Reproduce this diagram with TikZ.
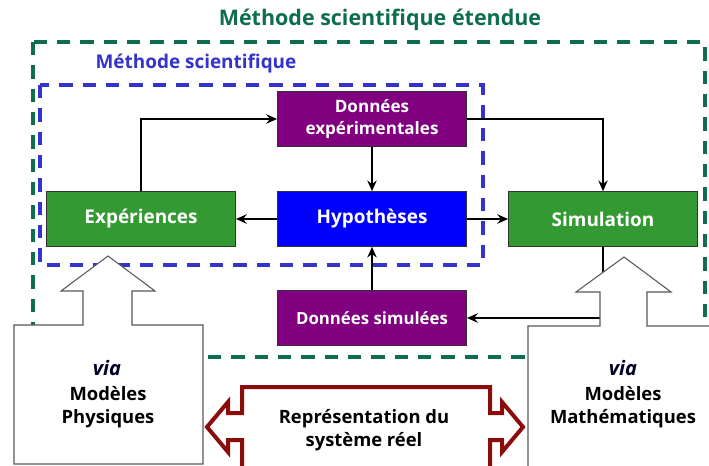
\documentclass[tikz,border=0pt]{standalone}
\usepackage{fontspec}
\setmainfont{Open Sans}
\usetikzlibrary{arrows.meta}
\definecolor{dkgreen}{RGB}{14,110,76}
\definecolor{dblue}{RGB}{52,52,205}
\definecolor{boxgreen}{RGB}{51,153,51}
\definecolor{boxpurple}{RGB}{128,0,128}
\definecolor{boxblue}{RGB}{0,0,255}
\definecolor{dkred}{RGB}{140,12,12}
\tikzset{
  box/.style={draw=black!80, line width=0.7pt, minimum width=141.75pt, minimum height=41pt, inner sep=0pt, text=white, font=\bfseries, align=center},
  conn/.style={line width=2.2pt, -{Stealth[length=8pt,width=7pt]}},
  dashbox/.style={line width=2.6pt, dash pattern=on 10pt off 7.5pt},
  blockarrow/.style={draw=black!65, line width=0.8pt, fill=white},
  lbl/.style={font=\bfseries, align=center, text=black},
  viatext/.style={font=\bfseries\itshape\fontsize{15}{16}\selectfont, text=black!85!blue}
}
\begin{document}
\begin{tikzpicture}[x=0.75pt,y=-0.75pt]
\useasboundingbox (0,0) rectangle (709,466);
\clip (0,0) rectangle (709,466);
\fill[white] (0,0) rectangle (709,466);
% titles
\node[font=\bfseries\fontsize{16.1}{18}\selectfont, text=dkgreen] (title) at (380,20) {Méthode scientifique étendue};
\node[font=\bfseries\fontsize{14.2}{15}\selectfont, text=dblue] (subtitle) at (196,64) {Méthode scientifique};
% dashed frames
\draw[dashbox, draw=dkgreen] (33,42) rectangle (705,357);
\draw[dashbox, draw=dblue] (40,85) rectangle (483,265);
% boxes
\node[box, fill=boxgreen, font=\bfseries\fontsize{14.2}{16}\selectfont] (exp) at (141,219) {Expériences};
\node[box, fill=boxblue, font=\bfseries\fontsize{14.2}{16}\selectfont] (hyp) at (372,219) {Hypothèses};
\node[box, fill=boxgreen, font=\bfseries\fontsize{14.2}{16}\selectfont] (sim) at (603,219) {Simulation};
\node[box, fill=boxpurple, font=\bfseries\fontsize{12.8}{16}\selectfont] (dexp) at (372,119) {Données\\expérimentales};
\node[box, fill=boxpurple, font=\bfseries\fontsize{12.6}{14}\selectfont] (dsim) at (372,318) {Données simulées};
% connectors
\draw[conn] (exp.north) |- (dexp.west);
\draw[conn] (dexp.east) -| (sim.north);
\draw[conn] (dexp.south) -- (hyp.north);
\draw[conn] (hyp.west) -- (exp.east);
\draw[conn] (hyp.east) -- (sim.west);
\draw[conn] (sim.south) |- (dsim.east);
\draw[conn] (dsim.north) -- (hyp.south);
% left block arrow
\draw[blockarrow] (14,325) -- (83,325) -- (83,291) -- (61,291) -- (108,256) -- (155,291) -- (132,291) -- (132,325) -- (203,325) -- (203,464) -- (14,464) -- cycle;
\node[viatext] (via1) at (107,368) {via};
\node[lbl, font=\bfseries\fontsize{13.8}{17.5}\selectfont] (mp) at (108,407) {Modèles\\Physiques};
% right block arrow
\draw[blockarrow] (528,326) -- (600,326) -- (600,292) -- (576,292) -- (624,257) -- (671,292) -- (647,292) -- (647,326) -- (720,326) -- (720,480) -- (528,480) -- cycle;
\node[viatext] (via2) at (623,368) {via};
\node[lbl, font=\bfseries\fontsize{13.8}{17.5}\selectfont] (mm) at (623,407) {Modèles\\Mathématiques};
% double arrow
\draw[draw=dkred, line width=3pt, fill=white, line join=miter]
  (242,480) -- (242,440) -- (228,440) -- (228,452) -- (207,427) -- (228,402) -- (228,413) -- (242,413) -- (242,387)
  -- (490,387) -- (490,413) -- (502,413) -- (502,402) -- (523,427) -- (502,452) -- (502,440) -- (490,440) -- (490,480);
\node[lbl, font=\bfseries\fontsize{13.8}{17.5}\selectfont] (rep) at (364,430) {Représentation du\\système réel};
\end{tikzpicture}
\end{document}
